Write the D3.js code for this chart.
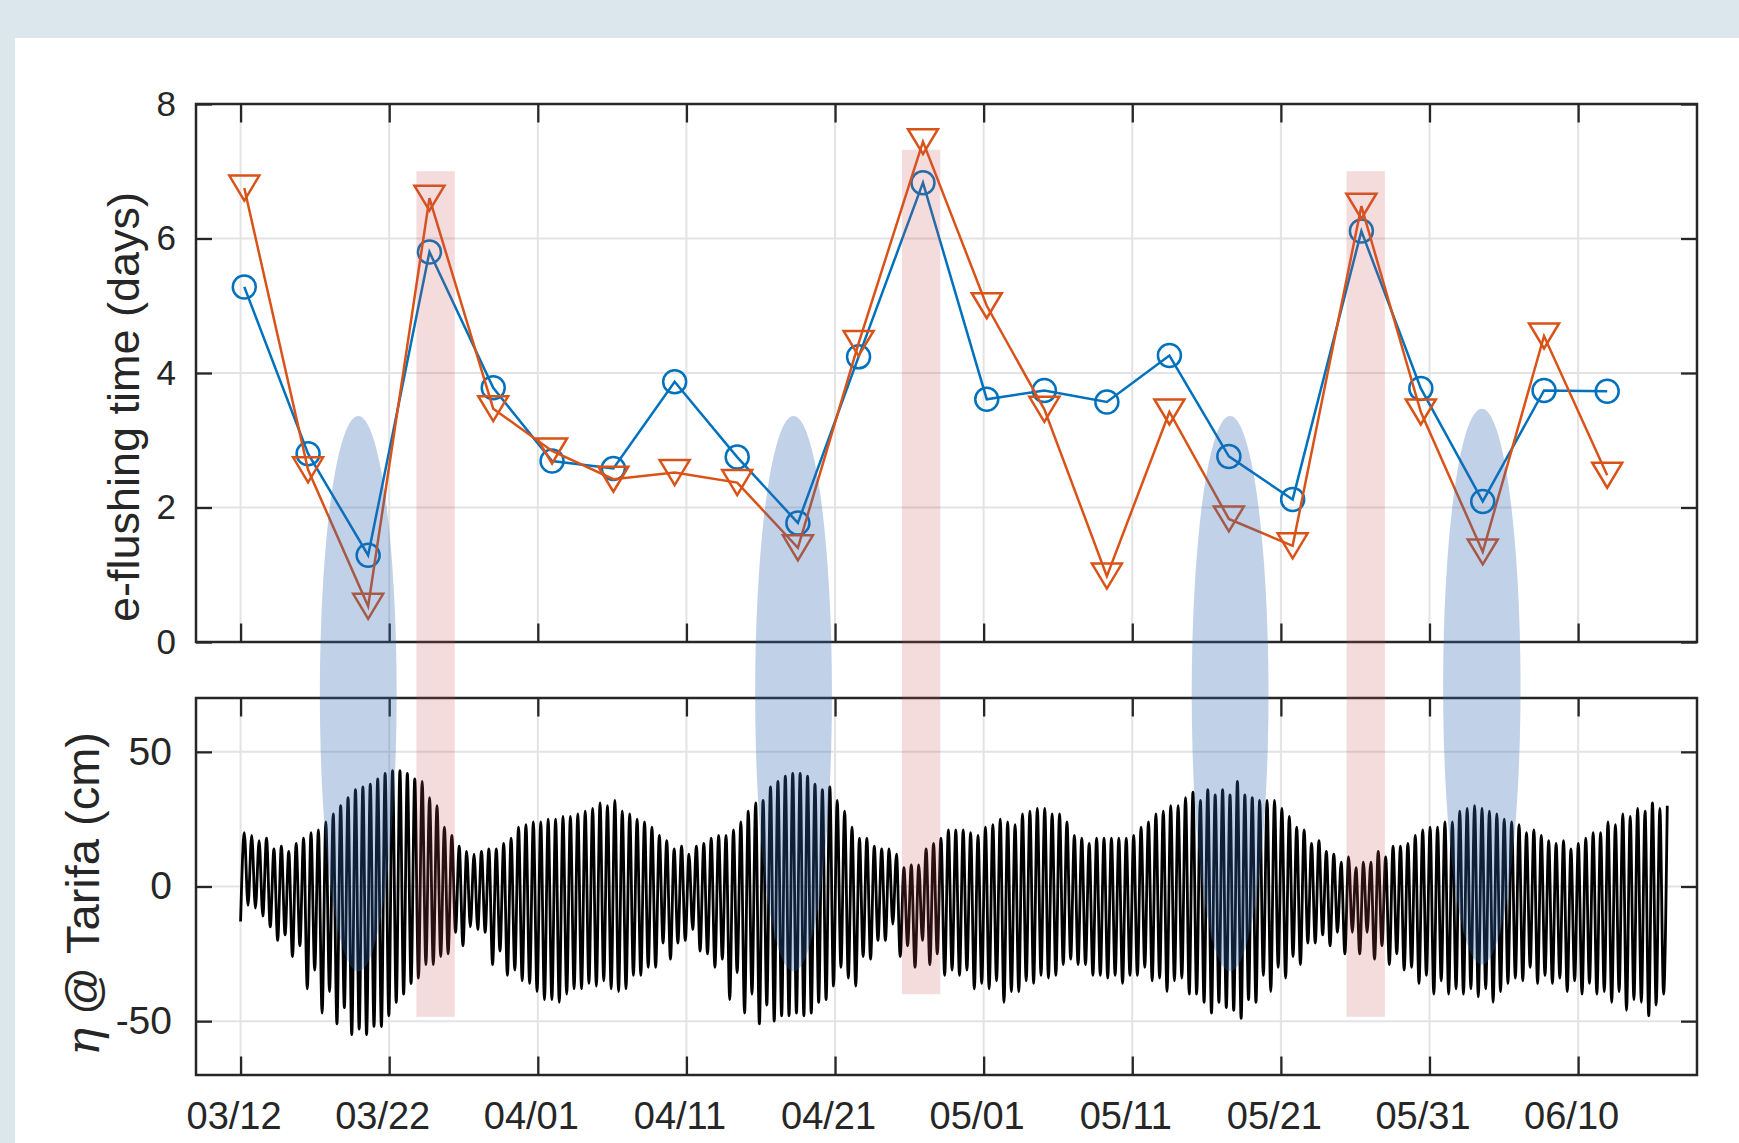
<!DOCTYPE html>
<html>
<head>
<meta charset="utf-8">
<script src="https://cdn.jsdelivr.net/npm/d3@7"></script>
<style>
  html, body { margin: 0; padding: 0; background: #dbe7ec; }
  svg { display: block; }
</style>
</head>
<body>
<svg id="fig" width="1739" height="1143"></svg>
<script>
// ---------------- data ----------------
// sampling instants of the flushing-time estimates
const sampleDates = [
  "2015-03-12 06:00","2015-03-16 13:00","2015-03-20 14:00","2015-03-24 17:00",
  "2015-03-29 00:00","2015-04-01 23:00","2015-04-06 02:00","2015-04-10 05:00",
  "2015-04-14 10:00","2015-04-18 12:00","2015-04-22 14:00","2015-04-26 22:00",
  "2015-05-01 05:00","2015-05-05 02:00","2015-05-09 07:00","2015-05-13 12:00",
  "2015-05-17 12:00","2015-05-21 19:00","2015-05-26 10:00","2015-05-30 10:00",
  "2015-06-03 14:00","2015-06-07 17:00","2015-06-11 23:00"
];
// e-flushing time (days), circle series
const flushCircle = [5.28, 2.80, 1.29, 5.80, 3.78, 2.69, 2.58, 3.87, 2.75, 1.77, 4.24, 6.83,
                     3.61, 3.74, 3.57, 4.26, 2.76, 2.12, 6.11, 3.77, 2.09, 3.74, 3.73];
// e-flushing time (days), triangle series
const flushTriangle = [6.75, 2.56, 0.53, 6.60, 3.47, 2.84, 2.42, 2.52, 2.37, 1.40, 4.44, 7.44,
                       5.00, 3.46, 0.98, 3.42, 1.83, 1.43, 6.48, 3.42, 1.34, 4.55, 2.48];

const xTickLabels = ["03/12","03/22","04/01","04/11","04/21","05/01","05/11","05/21","05/31","06/10"];
const yTicksTop = [0, 2, 4, 6, 8];
const yTicksBottom = [-50, 0, 50];

// spring-tide windows (ellipses): start, end, upper value (days axis), lower value (cm axis)
const springStart  = ["2015-03-17 08:00","2015-04-15 15:00","2015-05-15 00:00","2015-05-31 22:00"];
const springEnd    = ["2015-03-22 12:00","2015-04-20 19:00","2015-05-20 04:00","2015-06-06 03:00"];
const springTop    = [3.36, 3.36, 3.36, 3.47];
const springBottom = [-31.5, -31.5, -31.5, -29];

// neap-tide windows (bars)
const neapStart  = ["2015-03-23 20:00","2015-04-25 12:00","2015-05-25 10:00"];
const neapEnd    = ["2015-03-26 10:00","2015-04-28 02:00","2015-05-28 00:00"];
const neapTop    = [7.0, 7.32, 7.0];
const neapBottom = [-48.4, -40, -48.4];

// sea level at Tarifa (cm): opening level, then successive high / low waters
const tideStart = "2015-03-12 00:00";
const tideStartLevel = -13;
const tideFirstHigh = "2015-03-12 06:00";
const tideLastHigh  = "2015-06-16 00:00";
const tideHighs = [
  20,19, 17,18, 14,15, 13,16, 18,20, 21,24, 27,30, 33,36, 37,38, 40,42,
  43,43, 42,40, 39,33, 30,22, 19,15, 13,12, 13,14, 14,16, 18,22, 23,24,
  24,25, 25,26, 26,27, 28,29, 31,30, 32,28, 27,25, 24,22, 19,17, 14,15,
  12,15, 16,18, 19,19, 21,24, 28,31, 32,37, 39,41, 42,42, 41,38, 36,37,
  32,28, 22,18, 18,15, 14,14, 12,7,  8,8,   14,16, 18,21, 21,21, 20,19,
  22,23, 25,24, 23,27, 28,29, 29,27, 27,24, 19,18, 16,18, 18,18, 18,18,
  19,22, 24,27, 28,30, 30,33, 35,32, 36,34, 36,34, 39,34, 33,32, 32,32,
  29,26, 22,21, 16,17, 13,12, 9,11,  7,9,   9,13,  11,15, 15,16, 19,21,
  22,22, 24,24, 28,29, 30,29, 28,27, 25,24, 23,20, 21,19, 17,16, 17,14,
  16,18, 20,20, 24,23, 27,26, 29,28, 31,29, 30
];
const tideLows = [
  -7,-8,   -11,-15, -20,-18, -26,-22, -38,-31, -47,-39, -51,-45, -55,-53, -55,-52, -52,-48,
  -43,-40, -36,-34, -29,-29, -26,-25, -17,-22, -15,-16, -17,-29, -24,-33, -31,-35, -36,-39,
  -42,-42, -43,-40, -38,-38, -36,-37, -35,-38, -39,-38, -33,-33, -30,-30, -21,-27, -21,-20,
  -16,-24, -25,-30, -27,-42, -32,-47, -40,-51, -44,-50, -48,-48, -47,-48, -47,-43, -42,-37,
  -30,-34, -37,-26, -27,-20, -20,-14, -26,-22, -30,-20, -29,-25, -33,-31, -33,-31, -38,-36,
  -38,-35, -43,-39, -39,-35, -36,-33, -34,-33, -29,-27, -29,-29, -33,-33, -34,-33, -36,-33,
  -33,-30, -35,-34, -39,-35, -34,-40, -40,-43, -47,-43, -45,-46, -49,-42, -43,-33, -39,-30,
  -34,-26, -29,-21, -21,-18, -22,-17, -25,-17, -25,-17, -27,-22, -29,-25, -31,-30, -36,-33,
  -40,-35, -40,-38, -40,-38, -41,-38, -43,-39, -36,-34, -35,-30, -36,-33, -36,-34, -39,-35,
  -40,-36, -40,-39, -43,-39, -46,-42, -43,-48, -44,-40
];

// ---------------- layout ----------------
const W = 1739, H = 1143;
const left = 196, right = 1697;
const topPanel = { y0: 104, y1: 642 };
const botPanel = { y0: 698, y1: 1075 };
const axisColor = "#262626";
const gridColor = "#e3e3e3";
const blue = "#0072BD", orange = "#D95319";
const sans = "'Liberation Sans', Arial, Helvetica, sans-serif";

const parseT = d3.timeParse("%Y-%m-%d %H:%M");
const parseTick = d3.timeParse("%Y/%m/%d");

const x = d3.scaleTime()
  .domain([parseT("2015-03-09 00:00"), parseT("2015-06-18 00:00")])
  .range([left, right]);
const yTop = d3.scaleLinear().domain([0, 8]).range([topPanel.y1, topPanel.y0]);
const yBot = d3.scaleLinear().domain([-70, 70]).range([botPanel.y1, botPanel.y0]);

const xTicks = xTickLabels.map(s => parseTick("2015/" + s));

const svg = d3.select("#fig");

// white page
svg.append("rect").attr("x", 15).attr("y", 38)
  .attr("width", W - 15).attr("height", H - 38).attr("fill", "#ffffff");

function drawGrid(y, panel, yTicks) {
  const g = svg.append("g");
  g.append("g").selectAll("line").data(xTicks).join("line")
    .attr("x1", d => x(d)).attr("x2", d => x(d))
    .attr("y1", panel.y0).attr("y2", panel.y1)
    .attr("stroke", gridColor).attr("stroke-width", 2);
  g.append("g").selectAll("line").data(yTicks).join("line")
    .attr("x1", left).attr("x2", right)
    .attr("y1", d => y(d)).attr("y2", d => y(d))
    .attr("stroke", gridColor).attr("stroke-width", 2);
}

function drawFrame(y, panel, yTicks, opts) {
  const g = svg.append("g");
  const styleAxis = sel => {
    sel.select(".domain").remove();
    sel.selectAll(".tick line").attr("stroke", axisColor).attr("stroke-width", 2.3);
    sel.selectAll(".tick text").attr("fill", axisColor).attr("font-family", sans);
  };
  // bottom axis
  const ab = d3.axisBottom(x).tickValues(xTicks).tickSize(-18.5)
    .tickPadding(27).tickFormat(opts.xLabels ? d3.timeFormat("%m/%d") : "");
  g.append("g").attr("transform", `translate(0,${panel.y1})`).call(ab).call(styleAxis)
    .selectAll(".tick text").attr("font-size", opts.xFont).attr("dx", -7);
  // top axis
  const at = d3.axisTop(x).tickValues(xTicks).tickSize(-18.5).tickFormat("");
  g.append("g").attr("transform", `translate(0,${panel.y0})`).call(at).call(styleAxis);
  // left axis
  const al = d3.axisLeft(y).tickValues(yTicks).tickSize(-16)
    .tickPadding(opts.yPad).tickFormat(d => String(d));
  g.append("g").attr("transform", `translate(${left},0)`).call(al).call(styleAxis)
    .selectAll(".tick text").attr("font-size", opts.yFont);
  // right axis
  const ar = d3.axisRight(y).tickValues(yTicks).tickSize(-16).tickFormat("");
  g.append("g").attr("transform", `translate(${right},0)`).call(ar).call(styleAxis);
  // box
  g.append("rect").attr("x", left).attr("y", panel.y0)
    .attr("width", right - left).attr("height", panel.y1 - panel.y0)
    .attr("fill", "none").attr("stroke", axisColor).attr("stroke-width", 2.5);
}

// ---------- top panel: flushing time ----------
drawGrid(yTop, topPanel, yTicksTop);
const dates = sampleDates.map(parseT);
const lineTop = d3.line().x(d => x(d[0])).y(d => yTop(d[1]));
const circRows = dates.map((d, i) => [d, flushCircle[i]]);
const triRows = dates.map((d, i) => [d, flushTriangle[i]]);

svg.append("path").datum(circRows).attr("d", lineTop)
  .attr("fill", "none").attr("stroke", blue).attr("stroke-width", 2.5);
svg.append("g").selectAll("circle").data(circRows).join("circle")
  .attr("cx", d => x(d[0])).attr("cy", d => yTop(d[1])).attr("r", 11.5)
  .attr("fill", "none").attr("stroke", blue).attr("stroke-width", 2.5);

svg.append("path").datum(triRows).attr("d", lineTop)
  .attr("fill", "none").attr("stroke", orange).attr("stroke-width", 2.5);
svg.append("g").selectAll("path").data(triRows).join("path")
  .attr("transform", d => `translate(${x(d[0])},${yTop(d[1])})`)
  .attr("d", "M-15,-12.5L15,-12.5L0,12.5Z")
  .attr("fill", "none").attr("stroke", orange).attr("stroke-width", 2.5);

drawFrame(yTop, topPanel, yTicksTop, { xLabels: false, xFont: 38, yFont: 35, yPad: 20 });

// ---------- bottom panel: sea level ----------
drawGrid(yBot, botPanel, yTicksBottom);

const t1 = parseT(tideFirstHigh), t2 = parseT(tideLastHigh);
const nExt = tideHighs.length + tideLows.length;
const step = (t2 - t1) / (nExt - 1);
const tideRows = [[parseT(tideStart), tideStartLevel]];
for (let k = 0; k < nExt; k++) {
  const v = (k % 2 === 0) ? tideHighs[k / 2] : tideLows[(k - 1) / 2];
  tideRows.push([new Date(+t1 + k * step), v]);
}
const lineBot = d3.line().x(d => x(d[0])).y(d => yBot(d[1])).curve(d3.curveMonotoneX);
svg.append("path").datum(tideRows).attr("d", lineBot)
  .attr("fill", "none").attr("stroke", "#000").attr("stroke-width", 2.8)
  .attr("stroke-linejoin", "round");

drawFrame(yBot, botPanel, yTicksBottom, { xLabels: true, xFont: 38, yFont: 39, yPad: 24 });

// ---------- axis titles ----------
svg.append("text")
  .attr("transform", "translate(139,407) rotate(-90)")
  .attr("text-anchor", "middle")
  .attr("font-family", sans)
  .attr("font-size", 45).attr("fill", axisColor)
  .text("e-flushing time (days)");

const yl = svg.append("text")
  .attr("transform", "translate(99,894) rotate(-90)")
  .attr("text-anchor", "middle")
  .attr("font-family", sans)
  .attr("font-size", 47).attr("fill", axisColor);
yl.append("tspan").attr("font-family", "'DejaVu Serif', 'Liberation Serif', serif")
  .attr("font-style", "italic").text("η");
yl.append("tspan").text(" @ Tarifa (cm)");

// ---------- tidal-phase shading across both panels ----------
const shade = svg.append("g");
shade.selectAll("ellipse").data(springStart.map((s, i) => ({
  a: parseT(s), b: parseT(springEnd[i]), top: springTop[i], bot: springBottom[i]
}))).join("ellipse")
  .attr("cx", d => (x(d.a) + x(d.b)) / 2)
  .attr("rx", d => (x(d.b) - x(d.a)) / 2)
  .attr("cy", d => (yTop(d.top) + yBot(d.bot)) / 2)
  .attr("ry", d => (yBot(d.bot) - yTop(d.top)) / 2)
  .attr("fill", "rgb(51,102,178)").attr("fill-opacity", 0.3);

shade.selectAll("rect").data(neapStart.map((s, i) => ({
  a: parseT(s), b: parseT(neapEnd[i]), top: neapTop[i], bot: neapBottom[i]
}))).join("rect")
  .attr("x", d => x(d.a)).attr("width", d => x(d.b) - x(d.a))
  .attr("y", d => yTop(d.top)).attr("height", d => yBot(d.bot) - yTop(d.top))
  .attr("fill", "rgb(200,80,80)").attr("fill-opacity", 0.2);
</script>
</body>
</html>
